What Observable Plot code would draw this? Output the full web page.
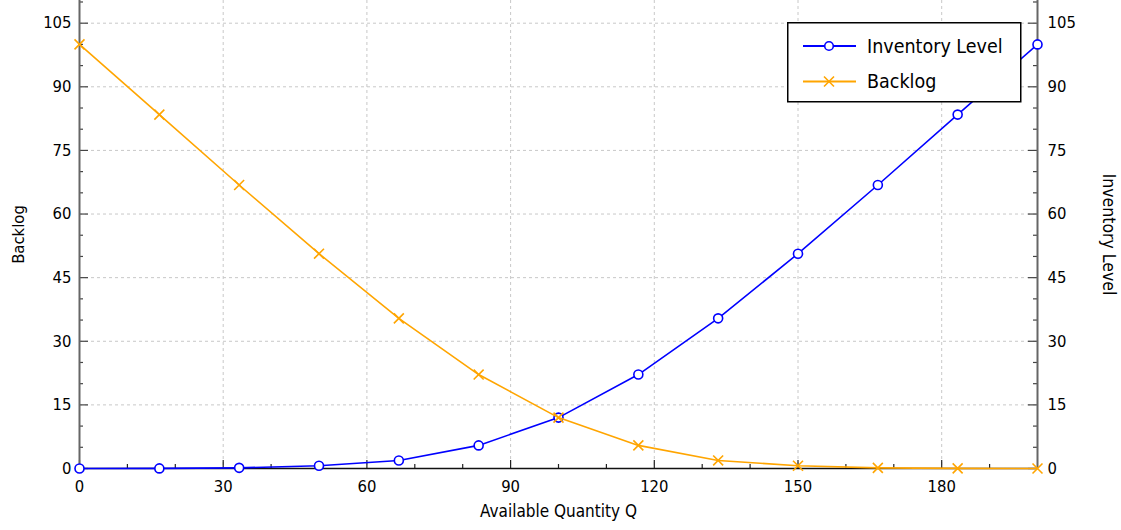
<!DOCTYPE html>
<html>
<head>
<meta charset="utf-8">
<script src="https://cdn.jsdelivr.net/npm/d3@7"></script>
<script src="https://cdn.jsdelivr.net/npm/@observablehq/plot@0.6"></script>
<style>
  html, body { margin: 0; padding: 0; background: #fff; }
  #wrap { position: relative; width: 1121px; height: 530px; font-family: "DejaVu Sans Condensed", "DejaVu Sans", sans-serif; font-stretch: condensed; }
  #legend { position: absolute; left: 787px; top: 22px; }
</style>
</head>
<body>
<div id="wrap"></div>
<script>
// ---- data ----
const quantity = [0, 16.67, 33.33, 50, 66.67, 83.33, 100, 116.67, 133.33, 150, 166.67, 183.33, 200];
const inventoryLevel = [0, 0.02, 0.15, 0.65, 1.9, 5.45, 12.0, 22.15, 35.4, 50.65, 66.85, 83.45, 100];
const backlog = [100, 83.45, 66.85, 50.65, 35.4, 22.15, 12.0, 5.45, 1.9, 0.65, 0.15, 0.02, 0];
const seriesNames = ["Inventory Level", "Backlog"];
const xMajor = [0, 30, 60, 90, 120, 150, 180];
const xMinor = [10, 20, 40, 50, 70, 80, 100, 110, 130, 140, 160, 170, 190];
const yMajor = [0, 15, 30, 45, 60, 75, 90, 105];
const yMinor = [5, 10, 20, 25, 35, 40, 50, 55, 65, 70, 80, 85, 95, 100, 110];
const xGrid = [30, 60, 90, 120, 150, 180];
const yGrid = [15, 30, 45, 60, 75, 90, 105];

const invData = quantity.map((q, i) => ({q, v: inventoryLevel[i]}));
const backData = quantity.map((q, i) => ({q, v: backlog[i]}));

const BLUE = "#0000ff", ORANGE = "#ffa500";
const W = 1121, H = 530, ML = 79, MR = 84, MT = 0, MB = 62;
const PW = W - ML - MR, PH = H - MT - MB;
const FONT = '"DejaVu Sans Condensed", "DejaVu Sans", sans-serif';

const chart = Plot.plot({
  width: W, height: H,
  marginLeft: ML, marginRight: MR, marginTop: MT, marginBottom: MB,
  style: {fontFamily: FONT, fontSize: "16.5px", color: "#000", background: "#fff", overflow: "visible", fontStretch: "condensed"},
  x: {domain: [0, 200]},
  y: {domain: [0, 110.35]},
  marks: [
    Plot.ruleX(xGrid, {stroke: "#c8c8c8", strokeDasharray: "3,3", strokeWidth: 1}),
    Plot.ruleY(yGrid, {stroke: "#c8c8c8", strokeDasharray: "3,3", strokeWidth: 1}),
    // inner tick marks
    Plot.tickX(xMajor, {x: d => d, insetTop: PH - 8, stroke: "#222", strokeWidth: 1.2}),
    Plot.tickX(xMinor, {x: d => d, insetTop: PH - 4, stroke: "#222", strokeWidth: 1.2}),
    Plot.tickY(yMajor, {y: d => d, insetRight: PW - 9, stroke: "#444", strokeWidth: 1.2}),
    Plot.tickY(yMinor, {y: d => d, insetRight: PW - 4, stroke: "#444", strokeWidth: 1.2}),
    Plot.tickY(yMajor, {y: d => d, insetLeft: PW - 9, stroke: "#444", strokeWidth: 1.2}),
    Plot.tickY(yMinor, {y: d => d, insetLeft: PW - 4, stroke: "#444", strokeWidth: 1.2}),
    // axis lines
    Plot.ruleX([0, 200], {stroke: "#666", strokeWidth: 2}),
    Plot.ruleY([0], {stroke: "#111", strokeWidth: 1.5}),
    // tick labels
    Plot.axisX({ticks: xMajor, tickSize: 0, tickPadding: 12, label: null, fontSize: 16.5}),
    Plot.axisY({anchor: "left", ticks: yMajor, tickSize: 0, tickPadding: 8, label: null, fontSize: 16.5}),
    Plot.axisY({anchor: "right", ticks: yMajor, tickSize: 0, tickPadding: 10, label: null, fontSize: 16.5}),
    // axis titles
    Plot.text(["Available Quantity Q"], {frameAnchor: "bottom", dy: 48, lineAnchor: "bottom", fontSize: 17, fill: "#000"}),
    Plot.text(["Backlog"], {frameAnchor: "left", dx: -61, rotate: -90, textAnchor: "middle", lineAnchor: "middle", fontSize: 16.5, fill: "#000"}),
    Plot.text(["Inventory Level"], {frameAnchor: "right", dx: 71, rotate: 90, textAnchor: "middle", lineAnchor: "middle", fontSize: 17.5, fill: "#000"}),
    // series
    Plot.line(invData, {x: "q", y: "v", stroke: BLUE, strokeWidth: 1.6}),
    Plot.dot(invData, {x: "q", y: "v", r: 4.5, symbol: "circle", stroke: BLUE, fill: "#fff", strokeWidth: 1.6}),
    Plot.line(backData, {x: "q", y: "v", stroke: ORANGE, strokeWidth: 1.6}),
    Plot.dot(backData, {x: "q", y: "v", r: 4.6, symbol: "times", stroke: ORANGE, strokeWidth: 1.6})
  ]
});

const wrap = document.getElementById("wrap");
wrap.appendChild(chart);

// legend overlay
const ns = "http://www.w3.org/2000/svg";
const lg = document.createElementNS(ns, "svg");
lg.setAttribute("id", "legend");
lg.setAttribute("width", 235);
lg.setAttribute("height", 81);
const colors = [BLUE, ORANGE];
let html = `<rect x="0.75" y="0.75" width="233" height="79" fill="#fff" stroke="#000" stroke-width="1.5"/>`;
seriesNames.forEach((name, i) => {
  const cy = 24 + i * 35.5;
  html += `<line x1="16" x2="69" y1="${cy}" y2="${cy}" stroke="${colors[i]}" stroke-width="1.8"/>`;
  if (i === 0) {
    html += `<circle cx="42" cy="${cy}" r="4.3" fill="#fff" stroke="${colors[i]}" stroke-width="1.6"/>`;
  } else {
    html += `<path d="M37,${cy-5}L47,${cy+5}M37,${cy+5}L47,${cy-5}" stroke="${colors[i]}" stroke-width="1.6"/>`;
  }
  html += `<text x="80" y="${cy}" dy="0.35em" font-size="19.5" fill="#000" font-family='${FONT}' font-stretch="condensed">${name}</text>`;
});
lg.innerHTML = html;
wrap.appendChild(lg);
</script>
</body>
</html>
